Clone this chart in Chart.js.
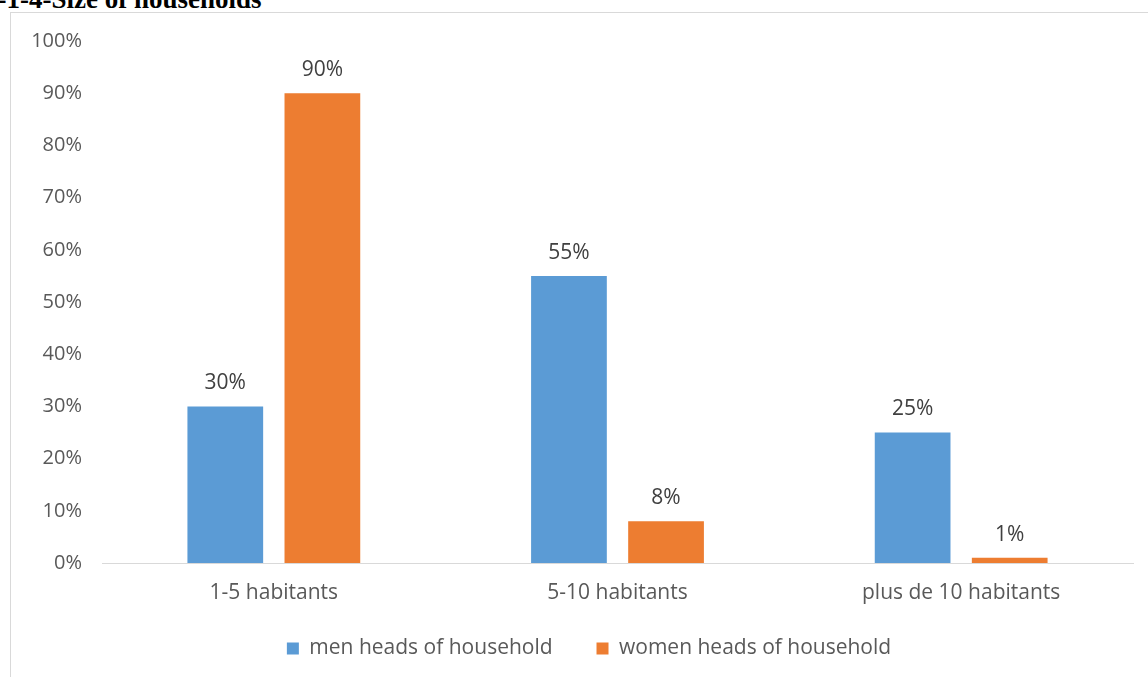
<!DOCTYPE html>
<html>
<head>
<meta charset="utf-8">
<script src="https://cdn.jsdelivr.net/npm/chart.js@4.4.0/dist/chart.umd.min.js"></script>
<style>
  html, body { margin: 0; padding: 0; background: #fff; overflow: hidden; }
  body { width: 1148px; height: 677px; position: relative; }
  .title {
    position: absolute; left: -13px; top: -16px; line-height: 30px; white-space: nowrap;
    font-family: "Liberation Serif", "Times New Roman", serif;
    font-weight: bold; font-size: 27px; color: #000;
  }
  .frame {
    position: absolute; left: 10px; top: 12px; width: 1200px; height: 700px;
    border-left: 1.5px solid #d9d9d9; border-top: 1.5px solid #d9d9d9;
  }
  .wrap { position: absolute; left: 11px; top: 9px; width: 1137px; height: 660px; }
</style>
</head>
<body>
<div class="title">I-1-4-Size of households</div>
<div class="frame"></div>
<div class="wrap"><canvas id="householdChart"></canvas></div>
<script>
const categories = ['1-5 habitants', '5-10 habitants', 'plus de 10 habitants'];
const menHeads = [30, 55, 25];
const womenHeads = [90, 8, 1];
const seriesNames = ['men heads of household', 'women heads of household'];

const font = '"Open Sans", Lato, sans-serif';
const fontSize = 21;

// little plugin for the % labels above bars
const barLabels = {
    id: 'barLabels',
    afterDatasetsDraw(chart) {
        const ctx = chart.ctx;
        ctx.save();
        ctx.font = fontSize + 'px ' + font;
        ctx.fillStyle = '#404040';
        ctx.textAlign = 'center';
        ctx.textBaseline = 'middle';
        chart.data.datasets.forEach((ds, i) => {
            chart.getDatasetMeta(i).data.forEach((bar, j) => {
                ctx.fillText(ds.data[j] + '%', bar.x, bar.y - 23);
            });
        });
        ctx.restore();
    }
};

// left padding is only there to push the legend right; let the y labels use that room
const widenY = {
    id: 'widenY',
    afterLayout(chart) {
        chart.scales.y.left = 0;
    }
};

new Chart(document.getElementById('householdChart'), {
    type: 'bar',
    data: {
        labels: categories,
        datasets: [
            { label: seriesNames[0], data: menHeads, backgroundColor: '#5B9BD5' },
            { label: seriesNames[1], data: womenHeads, backgroundColor: '#ED7D31' }
        ]
    },
    options: {
        responsive: true,
        maintainAspectRatio: false,
        animation: false,
        categoryPercentage: 0.565,
        barPercentage: 0.78,
        layout: { padding: { top: 0, right: 15, bottom: 0, left: 34 } },
        plugins: {
            tooltip: { enabled: false },
            legend: {
                position: 'bottom',
                labels: {
                    font: { family: font, size: fontSize },
                    color: '#595959',
                    boxWidth: 12,
                    boxHeight: 12,
                    padding: 33,
                    // a bit more room between the two entries, like the original
                    generateLabels(chart) {
                        const items = Chart.defaults.plugins.legend.labels.generateLabels(chart);
                        items[0].text += '\u00a0\u00a0';
                        return items;
                    }
                }
            }
        },
        scales: {
            x: {
                grid: { display: false, drawTicks: false },
                border: { color: '#d9d9d9', width: 1 },
                ticks: { font: { family: font, size: fontSize }, color: '#595959', padding: 17 },
                afterFit(scale) { scale.height = 42; }
            },
            y: {
                min: 0,
                max: 100,
                grid: { display: false, drawTicks: false },
                border: { display: false },
                ticks: {
                    stepSize: 10,
                    font: { family: font, size: 20 },
                    color: '#595959',
                    padding: 20,
                    callback: v => v + '%'
                },
                afterFit(scale) { scale.width = 57; }
            }
        }
    },
    plugins: [barLabels, widenY]
});
</script>
</body>
</html>
